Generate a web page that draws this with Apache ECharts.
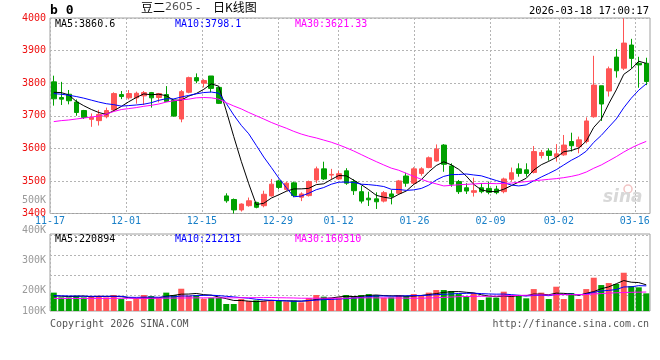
<!DOCTYPE html>
<html><head><meta charset="utf-8">
<script src="https://cdn.jsdelivr.net/npm/echarts@6/dist/echarts.min.js"></script>
<style>html,body{margin:0;padding:0;background:#fff}#c{width:660px;height:360px}</style>
</head><body><div id="c"></div>
<script>
const dates = ['11-17','11-18','11-19','11-20','11-21','11-24','11-25','11-26','11-27','11-28',
 '12-01','12-02','12-03','12-04','12-05','12-08','12-09','12-10','12-11','12-12',
 '12-15','12-16','12-17','12-18','12-19','12-22','12-23','12-24','12-25','12-26',
 '12-29','12-30','12-31','01-05','01-06','01-07','01-08','01-09','01-12','01-13',
 '01-14','01-15','01-16','01-19','01-20','01-21','01-22','01-23','01-26','01-27',
 '01-28','01-29','01-30','02-02','02-03','02-04','02-05','02-06','02-09','02-10',
 '02-11','02-12','02-13','02-24','02-25','02-26','02-27','03-02','03-03','03-04',
 '03-05','03-06','03-09','03-10','03-11','03-12','03-13','03-16','03-17','03-18'];
const opens = [3804,3756,3766,3742,3716,3689,3685,3697,3718,3765,
 3755,3755,3761,3771,3756,3765,3748,3690,3772,3817,
 3800,3822,3787,3454,3443,3411,3424,3434,3424,3454,
 3500,3474,3494,3450,3455,3503,3537,3518,3506,3531,
 3498,3467,3447,3445,3438,3460,3462,3515,3493,3523,
 3541,3561,3610,3546,3498,3479,3465,3479,3477,3475,
 3467,3505,3537,3534,3526,3578,3592,3574,3580,3621,
 3605,3621,3697,3792,3776,3880,3846,3917,3861,3861];
const closes = [3752,3751,3746,3710,3695,3695,3704,3716,3768,3759,
 3768,3769,3771,3755,3768,3744,3699,3774,3817,3807,
 3808,3784,3738,3439,3411,3429,3439,3419,3459,3490,
 3480,3493,3455,3460,3498,3537,3506,3520,3522,3493,
 3470,3438,3442,3436,3464,3452,3500,3493,3537,3537,
 3571,3598,3551,3490,3467,3469,3470,3467,3465,3464,
 3506,3525,3523,3523,3590,3587,3578,3583,3610,3608,
 3626,3684,3794,3736,3844,3838,3923,3876,3856,3805];
const highs = [3823,3804,3779,3750,3718,3707,3718,3725,3772,3776,
 3779,3774,3776,3773,3770,3791,3750,3779,3820,3830,
 3812,3822,3789,3462,3446,3431,3449,3436,3470,3506,
 3503,3497,3498,3465,3501,3544,3559,3537,3531,3539,
 3505,3485,3467,3465,3469,3472,3503,3525,3542,3542,
 3575,3612,3613,3554,3503,3493,3510,3493,3498,3485,
 3510,3541,3554,3554,3607,3595,3600,3613,3641,3648,
 3636,3695,3884,3792,3851,3905,3999,3936,3881,3878];
const lows = [3731,3733,3735,3700,3690,3666,3670,3692,3712,3751,
 3750,3737,3733,3725,3741,3742,3697,3680,3769,3800,
 3787,3772,3736,3433,3400,3406,3421,3416,3419,3452,
 3474,3470,3450,3438,3452,3493,3503,3505,3503,3488,
 3457,3431,3423,3414,3434,3428,3457,3482,3488,3516,
 3539,3559,3528,3482,3460,3460,3452,3462,3459,3459,
 3462,3498,3513,3513,3523,3569,3562,3559,3577,3590,
 3585,3615,3694,3684,3759,3817,3840,3846,3786,3794];
const ma5 = [3772,3771,3764,3744,3730.8,3719.4,3710,3704,3715.6,3728.4,
 3743,3756,3767,3764.4,3766.2,3761.4,3747.4,3748,3760.4,3768.2,
 3781,3798,3790.8,3715.2,3636,3560.2,3491.2,3427.4,3431.4,3447.2,
 3457.4,3468.2,3475.4,3475.6,3477.2,3488.6,3491.2,3504.2,3516.6,3515.6,
 3502.2,3488.6,3473,3455.8,3450,3446.4,3458.8,3469,3489.2,3503.8,
 3527.6,3547.2,3558.8,3549.4,3535.4,3515,3489.4,3472.6,3467.6,3467,
 3474.4,3485.4,3496.6,3508.2,3533.4,3549.6,3560.2,3572.2,3589.6,3593.2,
 3601,3622.2,3664.4,3689.6,3736.8,3779.2,3827,3843.4,3867.4,3860.6];
const ma10 = [3768,3766,3763,3759,3754,3748,3742,3737,3734,3729.6,
 3731.2,3733,3735.5,3740,3747.3,3752.2,3751.7,3757.5,3762.4,3767.2,
 3771.2,3772.7,3769.4,3737.8,3702.1,3670.6,3644.6,3609.1,3573.3,3541.6,
 3508.8,3479.7,3451.4,3453.5,3462.2,3473,3479.7,3489.8,3496.1,3496.4,
 3495.4,3489.9,3488.6,3486.2,3482.8,3474.3,3473.7,3471,3472.5,3476.9,
 3487,3503,3513.9,3519.3,3519.6,3521.3,3518.3,3515.7,3508.5,3501.2,
 3494.7,3487.4,3484.6,3487.9,3500.2,3512,3522.8,3534.4,3548.9,3563.3,
 3575.3,3591.2,3618.3,3639.6,3665,3690.1,3724.6,3753.9,3778.5,3798.1];
const ma30 = [3682,3685,3687,3690,3693,3696,3699,3705,3713,3719,
 3722,3725,3729,3732,3736,3742,3746,3749,3751,3755,
 3756,3755,3751,3740,3730,3721,3710,3700,3690,3679.5,
 3670.4,3661.8,3652.1,3643.8,3637.2,3631.9,3625.3,3618.8,3610.6,3601.7,
 3591.8,3580.8,3569.8,3559.2,3549,3539.3,3532.7,3523.3,3514,3505,
 3497.1,3490.9,3484.6,3486.3,3488.2,3489.5,3490.6,3492.2,3492.4,3491.5,
 3492.4,3493.4,3495.7,3497.8,3500.9,3502.5,3504.9,3507,3510,3513.8,
 3519,3527.2,3538.9,3548.9,3561.6,3574.5,3588.6,3601.3,3612,3621.33];
const volumes = [155000,115000,115000,129000,115000,126000,129000,115000,135000,101000,
 84000,101000,135000,126000,107000,155000,135000,188000,129000,135000,
 104000,112000,112000,59000,59000,101000,84000,90000,84000,90000,
 87000,79000,87000,73000,110000,135000,121000,112000,115000,135000,
 126000,135000,143000,135000,112000,115000,135000,126000,143000,135000,
 155000,177000,177000,169000,143000,126000,152000,93000,115000,112000,
 163000,126000,135000,107000,185000,155000,101000,205000,101000,152000,
 101000,185000,281000,219000,236000,228000,323000,211000,200000,149000];
const volMa5 = [128000,125000,122000,124000,126000,120000,123000,123000,124000,121000,
 113000,107000,111000,109000,111000,125000,132000,142000,143000,148000,
 138000,134000,118000,104000,89000,89000,83000,79000,84000,90000,
 87000,86000,85000,83000,87000,97000,105000,110000,119000,124000,
 122000,125000,131000,135000,130000,128000,128000,125000,126000,131000,
 139000,147000,157000,163000,164000,158000,153000,137000,126000,120000,
 127000,122000,130000,129000,143000,142000,137000,151000,149000,143000,
 132000,149000,164000,188000,204000,230000,257000,243000,240000,220894];
const volMa10 = [130000,128000,127000,126000,125000,124000,124000,124000,124000,124000,
 116000,115000,117000,117000,116000,119000,119000,127000,126000,130000,
 132000,133000,130000,124000,119000,113000,108000,99000,94000,90000,
 88000,85000,82000,83000,89000,92000,96000,98000,101000,105000,
 109000,115000,121000,127000,127000,125000,126000,128000,131000,131000,
 133000,138000,141000,144000,148000,149000,150000,147000,144000,142000,
 143000,138000,133000,127000,131000,134000,129000,140000,139000,143000,
 137000,143000,157000,169000,174000,181000,203000,204000,214000,212131];
const volMa30 = [106000,106000,106000,106000,106000,106000,106000,106000,107000,107000,
 107000,107000,107000,107000,108000,108000,109000,110000,110000,111000,
 111000,111000,111000,111000,111000,112000,112000,113000,113000,114000,
 112000,111000,110000,108000,108000,108000,108000,108000,107000,108000,
 110000,111000,111000,111000,111000,110000,110000,108000,108000,108000,
 110000,112000,115000,118000,121000,122000,124000,124000,125000,126000,
 128000,130000,132000,133000,135000,136000,135000,138000,138000,138000,
 138000,139000,144000,147000,151000,154000,156000,158000,159000,160310];
const dateLabels = ['11-17','12-01','12-15','12-29','01-12','01-26','02-09','03-02','03-16'];
const volTickLabels = ['100K','200K','300K','400K','500K'];
const volLabelPos = [0, 21, 51.7, 81.7, 111.7];

const MONO = '"DejaVu Sans Mono", "Liberation Mono", monospace';
const UP = '#ff5555', DOWN = '#00a000';
const gridLine = {show: true, lineStyle: {color: '#b4b4b4', type: [2, 2], width: 1}};
const pick = (i, v) => dateLabels.indexOf(v) >= 0;

const candleData = dates.map((d, i) => [opens[i], closes[i], lows[i], highs[i]]);
const volData = volumes.map((v, i) => ({value: v, itemStyle: {color: closes[i] >= opens[i] ? UP : DOWN}}));

const chart = echarts.init(document.getElementById('c'), null, {renderer: 'canvas'});
const txt = (x, y, text, fill, extra) => Object.assign({type: 'text', x: x, y: y, silent: true, z: 50,
  style: Object.assign({text: text, fill: fill, font: '10px ' + MONO, align: 'left', verticalAlign: 'middle'}, extra || {})});

chart.setOption({
  animation: false,
  backgroundColor: '#fff',
  grid: [
    {left: 50, width: 600, top: 18, height: 195.5, show: true, borderColor: '#a0a0a0', borderWidth: 1},
    {left: 50, width: 600, top: 234, height: 77, show: true, borderColor: '#a0a0a0', borderWidth: 1},
    {left: 50, width: 600, top: 235.3, height: 60, show: false},
    {left: 50, width: 600, top: 200, height: 111.7, show: false}
  ],
  xAxis: [
    {type: 'category', gridIndex: 0, data: dates, boundaryGap: true, show: false},
    {type: 'category', gridIndex: 0, data: dates, boundaryGap: false, position: 'bottom',
     axisLine: {show: false}, axisTick: {show: false}, axisLabel: {show: false},
     splitLine: Object.assign({interval: pick}, gridLine)},
    {type: 'category', gridIndex: 1, data: dates, boundaryGap: true, show: false},
    {type: 'category', gridIndex: 1, data: dates, boundaryGap: false, position: 'top',
     axisLine: {show: false}, axisTick: {show: false},
     axisLabel: {interval: pick, color: '#1a80c8', fontFamily: MONO, fontSize: 10, margin: 8,
       hideOverlap: false, showMinLabel: true, alignMinLabel: 'center', alignMaxLabel: 'center'},
     splitLine: Object.assign({interval: pick}, gridLine)},
    {type: 'value', gridIndex: 2, show: false},
    {type: 'value', gridIndex: 3, show: false}
  ],
  yAxis: [
    {type: 'value', gridIndex: 0, min: 3400, max: 4000, interval: 100,
     axisLine: {show: false}, axisTick: {show: false},
     axisLabel: {color: '#ee1111', fontFamily: MONO, fontSize: 10, margin: 4, padding: [0, 0, 3, 0],
       formatter: function (v) { return String(v); }},
     splitLine: gridLine},
    {type: 'value', gridIndex: 1, min: 0, max: 650000, show: false},
    {type: 'value', gridIndex: 2, min: 0, max: 60, interval: 20,
     axisLine: {show: false}, axisTick: {show: false}, axisLabel: {show: false},
     splitLine: gridLine},
    {type: 'value', gridIndex: 3, min: 0, max: 111.7,
     axisLine: {show: false}, axisTick: {show: false}, splitLine: {show: false},
     axisLabel: {customValues: volLabelPos, color: '#9a9a9a', fontFamily: MONO, fontSize: 10, margin: 4, hideOverlap: false,
       formatter: function (v) {
         let best = 0;
         volLabelPos.forEach((p, k) => { if (Math.abs(p - v) < Math.abs(volLabelPos[best] - v)) best = k; });
         return volTickLabels[best];
       }}}
  ],
  series: [
    {type: 'candlestick', xAxisIndex: 0, yAxisIndex: 0, data: candleData, barWidth: 5,
     itemStyle: {color: UP, color0: DOWN, borderColor: UP, borderColor0: DOWN, borderWidth: 1}, z: 2},
    {type: 'line', xAxisIndex: 0, yAxisIndex: 0, data: ma5, symbol: 'none', lineStyle: {color: '#000', width: 1}, z: 3},
    {type: 'line', xAxisIndex: 0, yAxisIndex: 0, data: ma10, symbol: 'none', lineStyle: {color: '#0000ff', width: 1}, z: 3},
    {type: 'line', xAxisIndex: 0, yAxisIndex: 0, data: ma30, symbol: 'none', lineStyle: {color: '#ff00ff', width: 1}, z: 3},
    {type: 'bar', xAxisIndex: 2, yAxisIndex: 1, data: volData, barWidth: 6, z: 2},
    {type: 'line', xAxisIndex: 2, yAxisIndex: 1, data: volMa5, symbol: 'none', lineStyle: {color: '#000', width: 1}, z: 3},
    {type: 'line', xAxisIndex: 2, yAxisIndex: 1, data: volMa10, symbol: 'none', lineStyle: {color: '#0000ff', width: 1}, z: 3},
    {type: 'line', xAxisIndex: 2, yAxisIndex: 1, data: volMa30, symbol: 'none', lineStyle: {color: '#ff00ff', width: 1}, z: 3}
  ],
  graphic: [
    txt(50, 11, 'b 0', '#000', {font: 'bold 13px ' + MONO}),
    txt(141, 7.5, '豆二', '#000', {font: '12px "Noto Sans CJK SC", sans-serif'}),
    txt(165, 7.5, '2605', '#555', {font: '11px "DejaVu Sans", sans-serif'}),
    txt(196, 7.5, '-', '#000', {font: '12px "Noto Sans CJK SC", sans-serif'}),
    txt(213, 7.5, '日K线图', '#000', {font: '12px "Noto Sans CJK SC", sans-serif'}),
    txt(649, 11.5, '2026-03-18 17:00:17', '#000', {align: 'right', font: '10.5px ' + MONO}),
    txt(55, 24, 'MA5:3860.6', '#000'),
    txt(175, 24, 'MA10:3798.1', '#0000ff'),
    txt(295, 24, 'MA30:3621.33', '#ff00ff'),
    txt(55, 239.5, 'MA5:220894', '#000'),
    txt(175, 239.5, 'MA10:212131', '#0000ff'),
    txt(295, 239.5, 'MA30:160310', '#ff00ff'),
    txt(50, 324, 'Copyright 2026 SINA.COM', '#555'),
    txt(649, 324, 'http://finance.sina.com.cn', '#555', {align: 'right'}),
    {type: 'circle', shape: {cx: 628, cy: 189, r: 4}, silent: true, z: 1, style: {fill: 'none', stroke: '#f2c4c4', lineWidth: 1.5}},
    {type: 'text', x: 603, y: 198, silent: true, z: 1, style: {text: 'sina', fill: '#d8d8d8', font: 'italic bold 17px "DejaVu Sans", sans-serif', verticalAlign: 'middle'}}
  ]
});
</script>
</body></html>
